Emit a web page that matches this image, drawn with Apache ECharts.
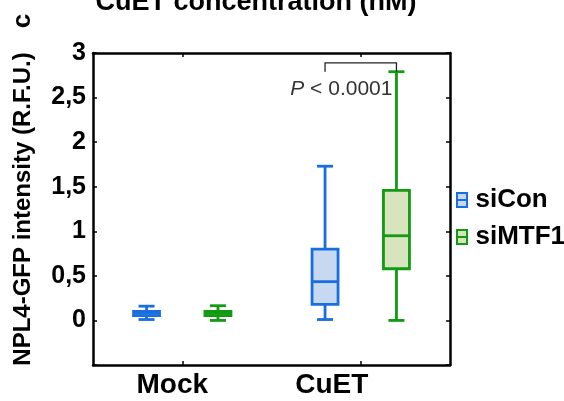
<!DOCTYPE html>
<html>
<head>
<meta charset="utf-8">
<script src="https://cdn.jsdelivr.net/npm/echarts@6/dist/echarts.min.js"></script>
<style>
  html, body { margin: 0; padding: 0; background: #fff; }
  #chart { width: 564px; height: 401px; }
</style>
</head>
<body>
<div id="chart"></div>
<script>
// categories and box values: [min, Q1, median, Q3, max]
var categories = ['Mock', 'CuET'];
var seriesNames = ['siCon', 'siMTF1'];
var siConBox = [
  [0.01, 0.055, 0.08, 0.10, 0.16],
  [0.01, 0.18, 0.435, 0.80, 1.73]
];
var siMTF1Box = [
  [0.00, 0.055, 0.08, 0.10, 0.165],
  [0.00, 0.58, 0.95, 1.46, 2.79]
];
var yTicks = [-0.5, 3, 0.5]; // min, max, interval
// significance bracket over CuET: bar level, leg end, label level
var bracket = [2.89, 2.79, 2.59];
var pLabel = '{i|P} < 0.0001';

var lineColors = ['#1a6fdf', '#119a12'];
var fillColors = ['#c6d9f1', '#d7e4bd'];
var FONT = 'Liberation Sans, Arial, sans-serif';

function toRows(boxes) {
  return boxes.map(function (b, i) { return [i].concat(b); });
}

function boxRenderer(offset, line, fill) {
  return function (params, api) {
    var idx = api.value(0);
    var band = api.size([1, 0])[0];
    var cx = api.coord([idx, 0])[0] + offset * band;
    var y = function (k) { return api.coord([idx, api.value(k)])[1]; };
    var half = 13, cap = 8;
    var ls = { stroke: line, lineWidth: 2.8 };
    return {
      type: 'group',
      children: [
        { type: 'line', shape: { x1: cx, y1: y(5), x2: cx, y2: y(4) }, style: ls },
        { type: 'line', shape: { x1: cx, y1: y(2), x2: cx, y2: y(1) }, style: ls },
        { type: 'line', shape: { x1: cx - cap, y1: y(5), x2: cx + cap, y2: y(5) }, style: ls },
        { type: 'line', shape: { x1: cx - cap, y1: y(1), x2: cx + cap, y2: y(1) }, style: ls },
        { type: 'rect', shape: { x: cx - half, y: y(4), width: half * 2, height: y(2) - y(4) },
          style: { fill: fill, stroke: line, lineWidth: 2.8 } },
        { type: 'line', shape: { x1: cx - half, y1: y(3), x2: cx + half, y2: y(3) }, style: ls }
      ]
    };
  };
}

var chart = echarts.init(document.getElementById('chart'));

var axisLine = { show: true, onZero: false, lineStyle: { color: '#000', width: 2.5 } };
var axisTick = { show: true, inside: true, length: 4, lineStyle: { color: '#000', width: 1.5 } };

var option = {
  animation: false,
  grid: { left: 93, right: 114, top: 53, bottom: 36 },
  legend: {
    orient: 'vertical',
    left: 456,
    top: 187,
    padding: 0,
    itemWidth: 11,
    itemHeight: 14,
    itemGap: 11,
    textStyle: { fontFamily: FONT, fontWeight: 'bold', fontSize: 26, color: '#000', padding: [0, 0, 0, 3] },
    data: seriesNames.map(function (n, i) {
      return {
        name: n,
        icon: 'path://M0,0H10V14H0Z M0,7H10',
        itemStyle: { color: fillColors[i], borderColor: lineColors[i], borderWidth: 2 }
      };
    })
  },
  xAxis: [
    {
      type: 'category', data: categories, position: 'bottom',
      axisLine: axisLine, axisTick: Object.assign({ alignWithLabel: true }, axisTick),
      axisLabel: {
        fontFamily: FONT, fontWeight: 'bold', fontSize: 28, color: '#000', margin: 6,
        formatter: function (v, i) { return '{c' + i + '|' + v + '}'; },
        rich: {
          c0: { fontFamily: FONT, fontWeight: 'bold', fontSize: 28, color: '#000', padding: [0, 20, 0, 0] },
          c1: { fontFamily: FONT, fontWeight: 'bold', fontSize: 28, color: '#000', padding: [0, 58, 0, 0] }
        }
      },
      splitLine: { show: false }
    },
    {
      type: 'category', data: categories, position: 'top',
      axisLine: axisLine, axisTick: Object.assign({ alignWithLabel: true }, axisTick),
      axisLabel: { show: false }, splitLine: { show: false }
    }
  ],
  yAxis: [
    {
      type: 'value', min: yTicks[0], max: yTicks[1], interval: yTicks[2],
      axisLine: axisLine, axisTick: axisTick, splitLine: { show: false },
      axisLabel: {
        fontFamily: FONT, fontWeight: 'bold', fontSize: 25, color: '#000', margin: 7,
        formatter: function (v) { return v < 0 ? '' : String(v).replace('.', ','); }
      },
      name: 'NPL4-GFP intensity (R.F.U.)',
      nameLocation: 'middle',
      nameGap: 58,
      nameTextStyle: { fontFamily: FONT, fontWeight: 'bold', fontSize: 24, color: '#000' }
    },
    {
      type: 'value', position: 'right', min: yTicks[0], max: yTicks[1], interval: yTicks[2],
      axisLine: axisLine, axisTick: axisTick, axisLabel: { show: false }, splitLine: { show: false }
    }
  ],
  graphic: [
    {
      type: 'text', x: 256, y: 16,
      style: {
        text: 'CuET concentration (nM)', fill: '#000', align: 'center', verticalAlign: 'bottom',
        font: 'bold 27px ' + FONT
      }
    },
    {
      type: 'text', x: 23, y: 21, rotation: Math.PI / 2,
      style: { text: 'c', fill: '#000', align: 'center', verticalAlign: 'middle', font: 'bold 26px ' + FONT }
    }
  ],
  series: [
    {
      name: seriesNames[0], type: 'custom', itemStyle: { color: fillColors[0] },
      renderItem: boxRenderer(-0.2, lineColors[0], fillColors[0]),
      encode: { x: 0, y: [1, 2, 3, 4, 5] },
      data: toRows(siConBox)
    },
    {
      name: seriesNames[1], type: 'custom', itemStyle: { color: fillColors[1] },
      renderItem: boxRenderer(0.2, lineColors[1], fillColors[1]),
      encode: { x: 0, y: [1, 2, 3, 4, 5] },
      data: toRows(siMTF1Box)
    },
    {
      name: 'sig', type: 'custom', silent: true,
      renderItem: function (params, api) {
        var band = api.size([1, 0])[0];
        var c = api.coord([1, bracket[0]]);
        var x1 = c[0] - 0.2 * band, x2 = c[0] + 0.2 * band;
        var yb = c[1], yl = api.coord([1, bracket[1]])[1], yt = api.coord([1, bracket[2]])[1];
        var ls = { stroke: '#222', lineWidth: 1.3 };
        return {
          type: 'group',
          children: [
            { type: 'polyline', shape: { points: [[x1, yl], [x1, yb], [x2, yb], [x2, yl]] }, style: Object.assign({ fill: 'none' }, ls) },
            {
              type: 'text', x: x2 - 4, y: yt,
              style: {
                text: pLabel, align: 'right', verticalAlign: 'middle', fill: '#333',
                font: '21px ' + FONT,
                rich: { i: { fontStyle: 'italic', fontFamily: FONT, fontSize: 21, fill: '#333' } }
              }
            }
          ]
        };
      },
      data: [[1, bracket[0]]]
    }
  ]
};

chart.setOption(option);
</script>
</body>
</html>
